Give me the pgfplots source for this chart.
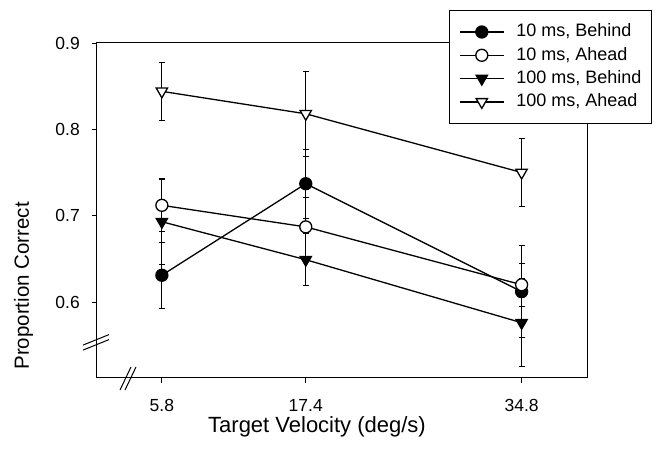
\documentclass[border=0pt]{standalone}
\usepackage{fontspec}
\setmainfont{Liberation Sans}
\usepackage{pgfplots}
\pgfplotsset{compat=1.18}
\newcommand{\legfont}{\fontsize{18}{21}\selectfont}

\begin{document}
\begin{tikzpicture}
\begin{axis}[
  scale only axis, width=490pt, height=335pt,
  xmin=0.57, xmax=40.07, ymin=0.512, ymax=0.9,
  xtick={5.8,17.4,34.8}, xticklabels={5.8,17.4,34.8},
  ytick={0.6,0.7,0.8,0.9},
  y tick label style={/pgf/number format/fixed, /pgf/number format/fixed zerofill, /pgf/number format/precision=1},
  /pgf/number format/assume math mode=true,
  tick pos=left, tick align=outside, major tick length=5pt,
  tick style={black, line width=0.8pt},
  axis line style={line width=1pt},
  tick label style={font=\fontsize{17.5}{20}\selectfont},
  xticklabel style={anchor=base, inner sep=0pt, yshift=-29pt},
  yticklabel style={anchor=east, inner sep=0pt, xshift=-12pt},
  xlabel={Target Velocity (deg/s)},
  ylabel={Proportion Correct},
  xlabel style={at={(axis description cs:0.449,-0.1622)}, anchor=base, font=\fontsize{22}{26}\selectfont},
  ylabel style={at={(axis description cs:-0.1388,0.275)}, anchor=base, font=\fontsize{20.5}{24}\selectfont},
  clip=false,
  legend style={at={(1.1327,1.0985)}, anchor=north east,
    draw=black, line width=1pt, fill=white, inner xsep=10pt, inner ysep=13.5pt,
    row sep=7.3pt,
    nodes={inner sep=0pt, text height=13pt, text depth=3pt},
    /tikz/every odd column/.append style={column sep=12pt}},
  legend cell align=left,
  legend image code/.code={\draw[mark repeat=2, mark phase=2, #1] plot coordinates {(0pt,0pt) (22pt,0pt) (44pt,0pt)};},
  every axis plot/.append style={black, line width=1.3pt,
    error bars/y dir=both, error bars/y explicit,
    error bars/error bar style={line width=0.9pt, solid},
    error bars/error mark options={rotate=90, mark size=3pt, line width=0.9pt}},
]

% 10 ms, Behind
\addplot[mark=*, mark size=6pt, mark options={solid, fill=black}]
  coordinates {(5.8,0.631) +- (0,0.038) (17.4,0.737) +- (0,0.040) (34.8,0.612) +- (0,0.053)};
\addlegendentry{\legfont 10 ms, Behind}

% 10 ms, Ahead
\addplot[mark=*, mark size=6pt, mark options={solid, fill=white}]
  coordinates {(5.8,0.712) +- (0,0.030) (17.4,0.687) +- (0,0.034) (34.8,0.620) +- (0,0.025)};
\addlegendentry{\legfont 10 ms, Ahead}

% 100 ms, Behind
\addplot[mark=triangle*, mark size=6.5pt, mark options={solid, rotate=180, fill=black}]
  coordinates {(5.8,0.693) +- (0,0.050) (17.4,0.649) +- (0,0.030) (34.8,0.576) +- (0,0.051)};
\addlegendentry{\legfont 100 ms, Behind}

% 100 ms, Ahead
\addplot[mark=triangle*, mark size=6.5pt, mark options={solid, rotate=180, fill=white}]
  coordinates {(5.8,0.844) +- (0,0.034) (17.4,0.818) +- (0,0.049) (34.8,0.750) +- (0,0.039)};
\addlegendentry{\legfont 100 ms, Ahead}

% axis breaks
\draw[line width=1pt] ([xshift=-14pt,yshift=-2.5pt]axis cs:0.57,0.553) -- ([xshift=12pt,yshift=8pt]axis cs:0.57,0.553);
\draw[line width=1pt] ([xshift=-14pt,yshift=-7.5pt]axis cs:0.57,0.553) -- ([xshift=12pt,yshift=3pt]axis cs:0.57,0.553);
\draw[line width=1pt] ([xshift=-8pt,yshift=-12pt]axis cs:3.07,0.512) -- ([xshift=3pt,yshift=11pt]axis cs:3.07,0.512);
\draw[line width=1pt] ([xshift=-3pt,yshift=-12pt]axis cs:3.07,0.512) -- ([xshift=8pt,yshift=11pt]axis cs:3.07,0.512);
\end{axis}
\path ([xshift=-97pt,yshift=-79pt]current axis.south west) rectangle ([xshift=70pt,yshift=43pt]current axis.north east);
\end{tikzpicture}
\end{document}
